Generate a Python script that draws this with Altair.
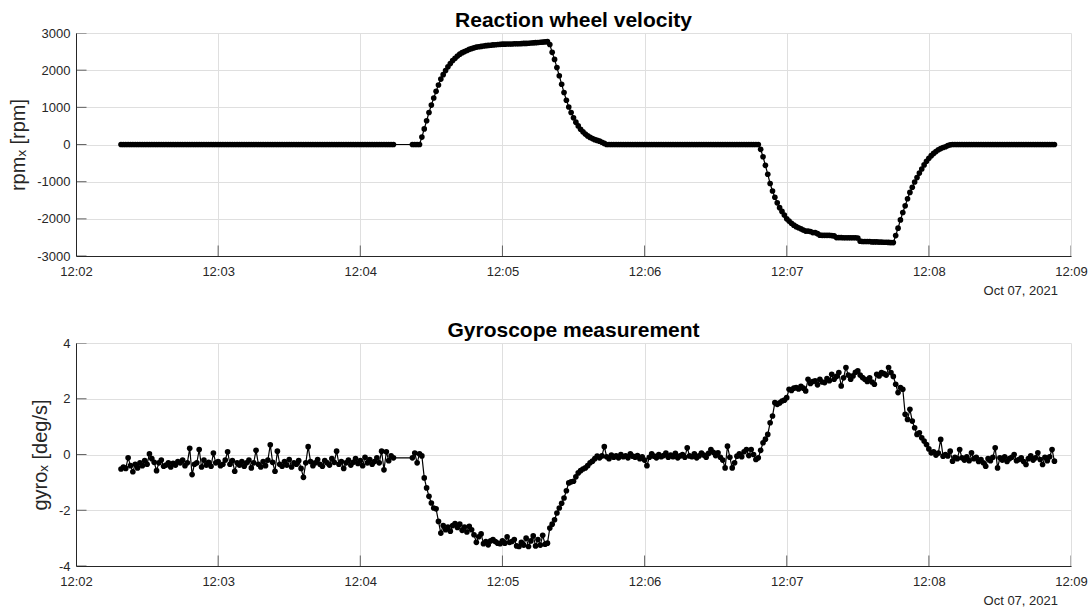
import altair as alt
import pandas as pd
from datetime import datetime, timedelta

# ---------------- data ----------------
DAY = (2021, 10, 7)
START = datetime(2021, 10, 7, 12, 2, 0)

# 1 Hz samples, seconds after 12:02:00; logging gap between 134 s and 142 s
seg1_first, seg1_last = 19, 134
seg2_first, seg2_last = 142, 413

rpm_idle_1 = [
    0, 0, 0, 0, 0, 0, 0, 0, 0, 0, 0, 0, 0, 0, 0, 0, 0, 0, 0, 0,
    0, 0, 0, 0, 0, 0, 0, 0, 0, 0, 0, 0, 0, 0, 0, 0, 0, 0, 0, 0,
    0, 0, 0, 0, 0, 0, 0, 0, 0, 0, 0, 0, 0, 0, 0, 0, 0, 0, 0, 0,
    0, 0, 0, 0, 0, 0, 0, 0, 0, 0, 0, 0, 0, 0, 0, 0, 0, 0, 0, 0,
    0, 0, 0, 0, 0, 0, 0, 0, 0, 0, 0, 0, 0, 0, 0, 0, 0, 0, 0, 0,
    0, 0, 0, 0, 0, 0, 0, 0, 0, 0, 0, 0, 0, 0, 0, 0,
]  # 12:02:19 - 12:04:14
rpm_idle_2 = [0, 0, 0, 0]  # 12:04:22 - 12:04:25
rpm_spin_up = [
    200, 420, 640, 860, 1060, 1250, 1430, 1600, 1760, 1880,
    1990, 2090, 2180, 2260, 2320, 2380, 2430, 2470, 2500, 2530,
    2560, 2580, 2600, 2620, 2630, 2640, 2650, 2660, 2665, 2670,
    2680, 2685, 2690, 2695, 2700, 2700, 2705, 2705, 2705, 2710,
    2710, 2710, 2715, 2720, 2720, 2725, 2730, 2735, 2740, 2745,
    2750, 2755, 2760, 2770, 2690, 2480, 2290, 2070, 1850, 1620,
    1400, 1190, 1010, 860, 720, 600, 500, 410, 340, 280,
    230, 190, 160, 130, 110, 90, 60, 30,
]  # 12:04:26 - 12:05:43
rpm_idle_3 = [
    0, 0, 0, 0, 0, 0, 0, 0, 0, 0, 0, 0, 0, 0, 0, 0, 0, 0, 0, 0,
    0, 0, 0, 0, 0, 0, 0, 0, 0, 0, 0, 0, 0, 0, 0, 0, 0, 0, 0, 0,
    0, 0, 0, 0, 0, 0, 0, 0, 0, 0, 0, 0, 0, 0, 0, 0, 0, 0, 0, 0,
    0, 0, 0, 0, 0,
]  # 12:05:44 - 12:06:48
rpm_spin_down = [
    -130, -330, -560, -800, -1050, -1250, -1420, -1570, -1700, -1800,
    -1900, -2000, -2060, -2120, -2170, -2210, -2240, -2270, -2300, -2330,
    -2330, -2340, -2370, -2370, -2400, -2440, -2445, -2445, -2445, -2445,
    -2450, -2460, -2505, -2505, -2505, -2510, -2510, -2510, -2510, -2510,
    -2510, -2515, -2600, -2610, -2610, -2610, -2610, -2620, -2620, -2620,
    -2625, -2625, -2630, -2630, -2635, -2640, -2640, -2450, -2250, -2030,
    -1830, -1650, -1460, -1290, -1150, -1010, -890, -770, -660, -550,
    -450, -370, -300, -240, -190, -140, -110, -80, -60, -30,
    -10,
]  # 12:06:49 - 12:08:09
rpm_idle_4 = [
    0, 0, 0, 0, 0, 0, 0, 0, 0, 0, 0, 0, 0, 0, 0, 0, 0, 0, 0, 0,
    0, 0, 0, 0, 0, 0, 0, 0, 0, 0, 0, 0, 0, 0, 0, 0, 0, 0, 0, 0,
    0, 0, 0, 0,
]  # 12:08:10 - 12:08:53

gyro_seg1 = [
    -0.52, -0.45, -0.50, -0.12, -0.40, -0.62, -0.35, -0.48, -0.30, -0.40,
    -0.22, -0.35, 0.02, -0.15, -0.28, -0.58, -0.30, -0.20, -0.42, -0.38,
    -0.30, -0.45, -0.32, -0.38, -0.25, -0.30, -0.20, -0.40, -0.30, 0.22,
    -0.72, -0.35, -0.30, 0.18, -0.45, -0.20, -0.38, -0.28, -0.42, 0.05,
    -0.30, -0.25, -0.40, -0.35, -0.20, 0.10, -0.35, -0.22, -0.60, -0.30,
    -0.38, -0.25, -0.42, -0.30, -0.20, -0.48, -0.30, 0.15, -0.35, -0.45,
    -0.25, -0.40, -0.20, 0.35, -0.28, -0.60, 0.12, -0.35, -0.42, -0.25,
    -0.38, -0.18, -0.45, -0.30, -0.35, -0.22, -0.50, -0.82, -0.30, 0.28,
    -0.25, -0.40, -0.30, -0.18, -0.35, -0.42, -0.22, -0.30, -0.38, -0.15,
    -0.28, 0.12, -0.35, -0.25, -0.50, -0.30, -0.20, -0.38, -0.28, -0.15,
    -0.32, -0.22, -0.40, -0.10, -0.30, -0.18, -0.35, -0.25, -0.12, -0.30,
    0.12, -0.55, 0.10, -0.22, -0.05, -0.12,
]
gyro_seg2 = [
    -0.12, 0.05, -0.30, 0.02, -0.05, -0.84, -1.20, -1.50,
    -1.74, -1.92, -1.95, -2.40, -2.82, -2.55, -2.70, -2.60, -2.75, -2.55,
    -2.48, -2.62, -2.50, -2.72, -2.60, -2.78, -2.58, -2.70, -2.88, -3.15,
    -2.95, -2.85, -3.20, -3.12, -3.24, -3.10, -3.05, -3.12, -3.18, -3.20,
    -3.10, -3.18, -2.95, -3.15, -3.12, -3.05, -3.28, -3.30, -3.15, -3.25,
    -3.00, -3.30, -3.10, -2.92, -3.28, -3.05, -3.25, -2.90, -3.22, -3.18,
    -2.64, -2.50, -2.34, -2.10, -1.92, -1.75, -1.56, -1.30, -1.02, -0.98,
    -0.96, -0.80, -0.66, -0.58, -0.52, -0.48, -0.40, -0.30, -0.24, -0.15,
    -0.06, -0.12, -0.05, 0.28, -0.08, -0.15, -0.02, -0.10, -0.05, -0.12,
    0.00, -0.08, -0.05, -0.12, 0.02, -0.06, -0.10, -0.04, -0.15, -0.08,
    -0.20, -0.40, -0.10, 0.02, -0.06, -0.12, 0.00, -0.08, -0.04, 0.05,
    -0.10, -0.02, -0.08, 0.04, -0.12, -0.05, 0.00, -0.10, 0.24, -0.05,
    -0.08, 0.02, -0.12, -0.05, 0.05, -0.02, -0.10, 0.04, 0.18, 0.08,
    -0.04, 0.06, -0.10, -0.20, -0.48, 0.30, -0.10, -0.48, -0.30, -0.06,
    0.02, -0.08, 0.10, 0.18, -0.04, 0.18, 0.00, -0.18, -0.12, 0.15,
    0.42, 0.55, 0.72, 1.14, 1.38, 1.86, 1.80, 1.85, 1.92, 1.95,
    2.04, 2.34, 2.30, 2.38, 2.40, 2.35, 2.45, 2.38, 2.28, 2.70,
    2.55, 2.62, 2.64, 2.50, 2.70, 2.60, 2.58, 2.72, 2.65, 2.88,
    2.70, 2.80, 2.94, 2.46, 2.75, 3.12, 2.85, 2.70, 2.82, 2.95,
    3.00, 2.85, 2.76, 2.70, 2.62, 2.75, 2.60, 2.52, 2.88, 2.82,
    2.94, 2.90, 2.85, 3.12, 2.94, 2.80, 2.52, 2.22, 2.40, 2.34,
    1.44, 1.26, 1.62, 1.20, 0.96, 0.72, 0.78, 0.60, 0.48, 0.36,
    0.20, 0.06, 0.10, -0.02, 0.05, 0.54, -0.06, 0.00, -0.05, 0.12,
    -0.24, -0.10, -0.15, 0.18, -0.12, -0.20, -0.08, -0.22, 0.06, -0.15,
    -0.10, -0.25, -0.18, -0.30, -0.42, -0.15, -0.22, -0.10, 0.24, -0.48,
    -0.12, -0.20, -0.08, -0.25, -0.15, -0.10, 0.00, -0.22, -0.18, -0.12,
    -0.25, -0.36, -0.15, -0.05, -0.20, -0.12, 0.06, -0.18, -0.36, -0.10,
    -0.22, -0.08, 0.18, -0.24,
]

x_tick_minutes = [2, 3, 4, 5, 6, 7, 8, 9]
rpm_ticks = [-3000, -2000, -1000, 0, 1000, 2000, 3000]
gyro_ticks = [-4, -2, 0, 2, 4]

# ---------------- assemble ----------------
seconds = list(range(seg1_first, seg1_last + 1)) + list(range(seg2_first, seg2_last + 1))
rpm = rpm_idle_1 + rpm_idle_2 + rpm_spin_up + rpm_idle_3 + rpm_spin_down + rpm_idle_4
gyro = gyro_seg1 + gyro_seg2
assert len(seconds) == len(rpm) == len(gyro), (len(seconds), len(rpm), len(gyro))


def iso(dt):
    return dt.strftime("%Y-%m-%dT%H:%M:%S")


df = pd.DataFrame({
    "time": [iso(START + timedelta(seconds=s)) for s in seconds],
    "rpm": rpm,
    "gyro": gyro,
})


def dtm(minute):
    return alt.DateTime(year=DAY[0], month=DAY[1], date=DAY[2], hours=12, minutes=minute)


x_domain = [dtm(2), dtm(9)]
x_values = [dtm(m) for m in x_tick_minutes]
INK = "#262626"
W = 995
H = 223


def panel(field, ytitle, title, ydomain, yticks):
    xscale = alt.Scale(domain=x_domain)
    yscale = alt.Scale(domain=ydomain, nice=False, zero=False)
    x = alt.X(
        "time:T",
        scale=xscale,
        axis=alt.Axis(
            values=x_values, format="%H:%M", labelFlush=False, labelOverlap=False,
            labelPadding=9, title="Oct 07, 2021", titleX=W - 13.5, titleY=34,
            titleAlign="right", titleBaseline="middle", titleAngle=0,
            titleFontSize=13, grid=True,
        ),
    )
    y = alt.Y(
        f"{field}:Q",
        scale=yscale,
        axis=alt.Axis(
            values=yticks, labelExpr="'' + datum.value", labelPadding=6,
            title=ytitle, titlePadding=8, grid=True,
        ),
    )
    base = alt.Chart(df)
    line = base.mark_line(color="black", strokeWidth=1.2).encode(x=x, y=y)
    pts = base.mark_point(filled=True, color="black", opacity=1, size=32).encode(x=x, y=y)

    # inward-pointing tick marks (half of each tick is clipped away)
    xt = pd.DataFrame({
        "time": [iso(START + timedelta(minutes=m - 2)) for m in x_tick_minutes],
        field: [ydomain[0]] * len(x_tick_minutes),
    })
    yt = pd.DataFrame({"time": [iso(START)] * len(yticks), field: yticks})
    xticks = alt.Chart(xt).mark_tick(orient="vertical", size=21, thickness=1, color=INK, clip=True).encode(
        x=x, y=y
    )
    yticks_l = alt.Chart(yt).mark_tick(orient="horizontal", size=21, thickness=1, color=INK, clip=True).encode(
        x=x, y=y
    )
    return alt.layer(line, pts, xticks, yticks_l).properties(
        width=W, height=H,
        title=alt.TitleParams(title, fontSize=21, fontWeight="bold", color="black", offset=-4),
    )


top = panel("rpm", "rpmₓ [rpm]", "Reaction wheel velocity", [-3000, 3000], rpm_ticks)
bottom = panel("gyro", "gyroₓ [deg/s]", "Gyroscope measurement", [-4, 4], gyro_ticks)

chart = (
    alt.vconcat(top, bottom, spacing=23)
    .configure(font="Liberation Sans", padding={"left": 8, "top": 10, "right": 0, "bottom": 0},
               background="white")
    .configure_view(stroke=None)
    .configure_axis(
        gridColor="#dfdfdf", gridWidth=1, domainColor=INK, domainWidth=1,
        labelColor=INK, labelFontSize=13, titleColor=INK, titleFontSize=20,
        titleFontWeight="normal", ticks=False, tickSize=0,
    )
)

chart.save("out.html", embed_options={"renderer": "svg", "actions": False})
